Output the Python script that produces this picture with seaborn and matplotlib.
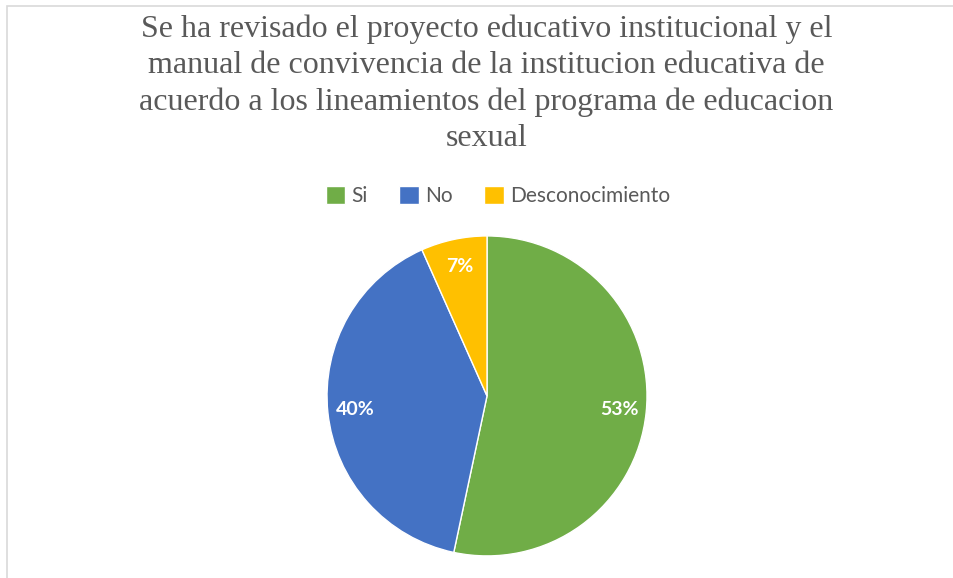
import matplotlib
matplotlib.use('Agg')
import matplotlib.pyplot as plt
import seaborn as sns
from matplotlib.patches import Rectangle

# survey answers (counts of respondents)
labels = ['Si', 'No', 'Desconocimiento']
counts = [8, 6, 1]
colors = ['#70AD47', '#4472C4', '#FFC000']
title = ('Se ha revisado el proyecto educativo institucional y el\n'
         'manual de convivencia de la institucion educativa de\n'
         'acuerdo a los lineamientos del programa de educacion\n'
         'sexual')

sns.set_style('white')
plt.rcParams['font.family'] = ['Lato', 'DejaVu Sans']

fig = plt.figure(figsize=(9.54, 5.78), dpi=100)
ax = fig.add_axes([0.3428, 0.0382, 0.3354, 0.5536])

wedges, texts, autotexts = ax.pie(
    counts, colors=colors, startangle=90, counterclock=False,
    autopct='%1.0f%%', pctdistance=0.83,
    wedgeprops=dict(edgecolor='white', linewidth=1.0))
for t in autotexts:
    t.set_color('white')
    t.set_fontweight('bold')
    t.set_fontsize(14)
ax.set_xlim(-1.0, 1.0)
ax.set_ylim(-1.0, 1.0)
ax.set_aspect('equal')

fig.text(0.51, 0.975, title, ha='center', va='top', fontsize=23,
         family='Liberation Serif', color='#595959', linespacing=1.33)

fig.legend(wedges, labels, loc='center', bbox_to_anchor=(0.522, 0.661),
           ncol=3, frameon=False, fontsize=15, handlelength=0.95,
           handleheight=0.95, handletextpad=0.3, columnspacing=1.5,
           labelcolor='#595959')

# light frame of the chart area
fig.add_artist(Rectangle((0.0075, -0.05), 1.1, 1.04, transform=fig.transFigure,
                         fill=False, edgecolor='#D9D9D9', linewidth=1.2))

fig.savefig('out.png', dpi=100)
